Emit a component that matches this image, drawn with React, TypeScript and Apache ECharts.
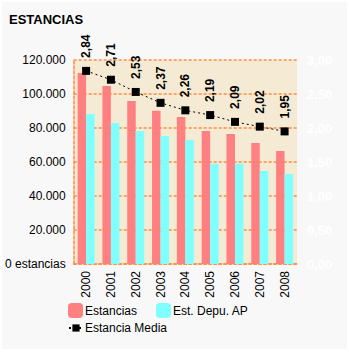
import React, { useEffect, useRef } from "react";
import * as echarts from "echarts";

const years = ["2000", "2001", "2002", "2003", "2004", "2005", "2006", "2007", "2008"];
const estancias = [112400, 104700, 95900, 90200, 86500, 78200, 76500, 71200, 66500];
const estDepuAP = [88300, 82900, 78200, 75300, 72900, 59000, 59000, 54700, 52900];
const estanciaMedia = [2.84, 2.71, 2.53, 2.37, 2.26, 2.19, 2.09, 2.02, 1.95];

const FONT = "Liberation Sans, Arial, sans-serif";
const GRID_LINE = { color: "#ff8c40", type: [3, 2], width: 1.5 };

export default function App() {
  const ref = useRef<HTMLDivElement>(null);
  useEffect(() => {
    document.body.style.margin = "0";
    document.body.style.background = "#ffffff";
    const chart = echarts.init(ref.current!, null, { renderer: "svg" });
    const fmtThousands = (v: number) => {
      if (v === 0) return "0 estancias";
      const s = String(Math.round(v));
      return s.replace(/\B(?=(\d{3})+(?!\d))/g, ".");
    };
    chart.setOption({
      animation: false,
      backgroundColor: "#f8f8f8",
      title: {
        text: "ESTANCIAS",
        left: 7,
        top: 11,
        padding: 0,
        textStyle: { fontFamily: FONT, fontSize: 13, fontWeight: "bold", color: "#000" },
      },
      grid: { left: 70, right: 50, top: 58, height: 204, containLabel: false,
        show: true, backgroundColor: "#f5ebd5", borderWidth: 0 },
      legend: [
        {
          data: ["Estancias", "Est. Depu. AP"],
          left: 61, top: 296,
          itemWidth: 15, itemHeight: 15, itemGap: 19,
          textStyle: { fontFamily: FONT, fontSize: 12, color: "#000", padding: [0, 0, 0, -3] },
        },
        {
          data: ["Estancia Media"],
          left: 61, top: 315,
          itemWidth: 14, itemHeight: 9, itemGap: 10,
          textStyle: { fontFamily: FONT, fontSize: 12, color: "#000", padding: [0, 0, 0, -3] },
        },
      ],
      xAxis: {
        type: "category",
        data: years,
        axisLine: { show: true, lineStyle: GRID_LINE },
        axisTick: { show: false },
        axisLabel: { rotate: 90, fontFamily: FONT, fontSize: 12, color: "#000", margin: 7 },
      },
      yAxis: [
        {
          type: "value", min: 0, max: 120000, interval: 20000,
          axisLine: { show: true, lineStyle: GRID_LINE },
          axisTick: { show: false },
          splitLine: { show: true, lineStyle: GRID_LINE },
          axisLabel: { formatter: fmtThousands, fontFamily: FONT, fontSize: 12, color: "#000", margin: 8 },
        },
        {
          type: "value", min: 0, max: 3, interval: 0.5, position: "right",
          axisLine: { show: false }, axisTick: { show: false }, splitLine: { show: false },
          axisLabel: {
            formatter: (v: number) => v.toFixed(2).replace(".", ","),
            fontFamily: FONT, fontSize: 13, fontWeight: "bold", color: "#ffffff", margin: 10,
          },
        },
      ],
      series: [
        {
          name: "Estancias", type: "bar", data: estancias,
          barWidth: 8.5, barGap: "0%",
          itemStyle: { color: "#ff8080" },
        },
        {
          name: "Est. Depu. AP", type: "bar", data: estDepuAP,
          barWidth: 8.5, barGap: "0%",
          itemStyle: { color: "#80ffff" },
        },
        {
          name: "Estancia Media", type: "line", yAxisIndex: 1, data: estanciaMedia,
          symbol: "rect", symbolSize: 8,
          itemStyle: { color: "#000" },
          lineStyle: { color: "#000", width: 1, type: [2, 3] },
          label: {
            show: true, position: "top", rotate: 90, align: "left", verticalAlign: "middle",
            distance: 9,
            formatter: (p: any) => Number(p.value).toFixed(2).replace(".", ","),
            fontFamily: FONT, fontSize: 12, fontWeight: "bold", color: "#000",
          },
        },
      ],
    });
    return () => chart.dispose();
  }, []);
  return (
    <div style={{ position: "absolute", left: 0, top: 0, width: 349, height: 352, background: "#fff" }}>
      <div ref={ref} style={{ position: "absolute", left: 2, top: 2, width: 345, height: 347 }} />
    </div>
  );
}
